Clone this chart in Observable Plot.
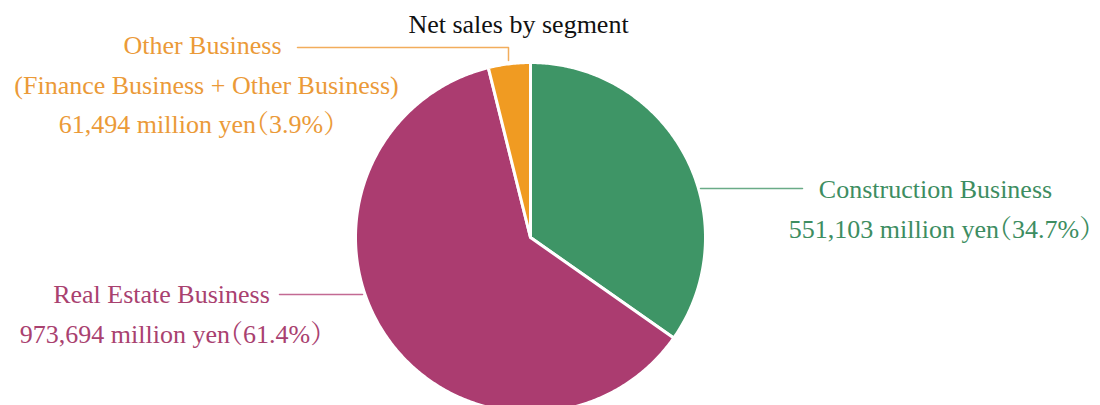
<!DOCTYPE html>
<html><head><meta charset="utf-8">
<script src="https://cdn.jsdelivr.net/npm/d3@7"></script>
<script src="https://cdn.jsdelivr.net/npm/@observablehq/plot@0.6"></script>
<style>body{margin:0;background:#fff} svg text{font-feature-settings:"halt"}</style>
</head><body><div id="chart"></div>
<script>
// ---- data ----
const segments = ["Construction Business", "Real Estate Business", "Other Business"];
const netSales = [551103, 973694, 61494]; // million yen
const segmentNotes = ["", "", "(Finance Business + Other Business)"];
const chartTitle = "Net sales by segment";
const sliceColors = ["#3e9566", "#ab3c70", "#f09b22"];
const textColors = ["#3d8d61", "#a9416f", "#eb9a38"];
const lineColors = ["#6aab87", "#c36a93", "#f2ad5c"];

// ---- layout ----
const W = 1100, H = 405;
const pie = {cx: 530, cy: 237, r: 175};
const FONT = "'Liberation Serif', 'Times New Roman', 'Noto Serif CJK JP', 'Noto Sans CJK JP', serif";
const FS = 26;
// per-line centre x and baseline y of each label block
const labelLayout = [
  {lines: [[935, 197], [940, 237]], leader: [[700, 188], [802, 188]]},
  {lines: [[161, 302], [171, 342]], leader: [[279, 294], [362, 294]]},
  {lines: [[202, 53], [206, 93], [197, 132]], leader: [[297, 47], [508, 47], [508, 60]]}
];
const titlePos = [518, 32];

const total = d3.sum(netSales);
const arcs = d3.pie().sort(null)(netSales);
const slicePts = [];
arcs.forEach((a, i) => {
  slicePts.push({seg: segments[i], x: pie.cx, y: pie.cy});
  const n = Math.max(2, Math.ceil((a.endAngle - a.startAngle) / 0.01));
  for (let k = 0; k <= n; k++) {
    const t = a.startAngle + (a.endAngle - a.startAngle) * k / n;
    slicePts.push({seg: segments[i], x: pie.cx + pie.r * Math.sin(t), y: pie.cy - pie.r * Math.cos(t)});
  }
});

const fmt = d3.format(",");
const labelLines = i => [segments[i], ...(segmentNotes[i] ? [segmentNotes[i]] : []),
  fmt(netSales[i]) + " million yen（" + (netSales[i] / total * 100).toFixed(1) + "%）"];

const base = FS * 0.32; // baseline offset for lineAnchor middle
const marks = [
  Plot.line(slicePts, {x: "x", y: "y", z: "seg", fill: "seg", stroke: "white", strokeWidth: 3, curve: "linear-closed"})
];
segments.forEach((s, i) => {
  const L = labelLayout[i];
  marks.push(Plot.line(L.leader.map(([x, y]) => ({x, y})), {x: "x", y: "y", stroke: lineColors[i], strokeWidth: 1.5}));
  const rows = labelLines(i).map((t, k) => ({t, x: L.lines[k][0], y: L.lines[k][1] - base}));
  marks.push(Plot.text(rows, {x: "x", y: "y", text: "t", fill: textColors[i],
    fontSize: FS, textAnchor: "middle", fontFamily: FONT}));
});
marks.push(Plot.text([chartTitle], {x: () => titlePos[0], y: () => titlePos[1] - base, text: d => d, fill: "#111", fontSize: FS, fontFamily: FONT}));

const chart = Plot.plot({
  width: W, height: H, margin: 0,
  style: {background: "white", overflow: "hidden"},
  x: {domain: [0, W], range: [0, W], axis: null},
  y: {domain: [0, H], range: [0, H], axis: null},
  color: {domain: segments, range: sliceColors},
  marks
});
document.getElementById("chart").append(chart);
</script>
</body></html>
